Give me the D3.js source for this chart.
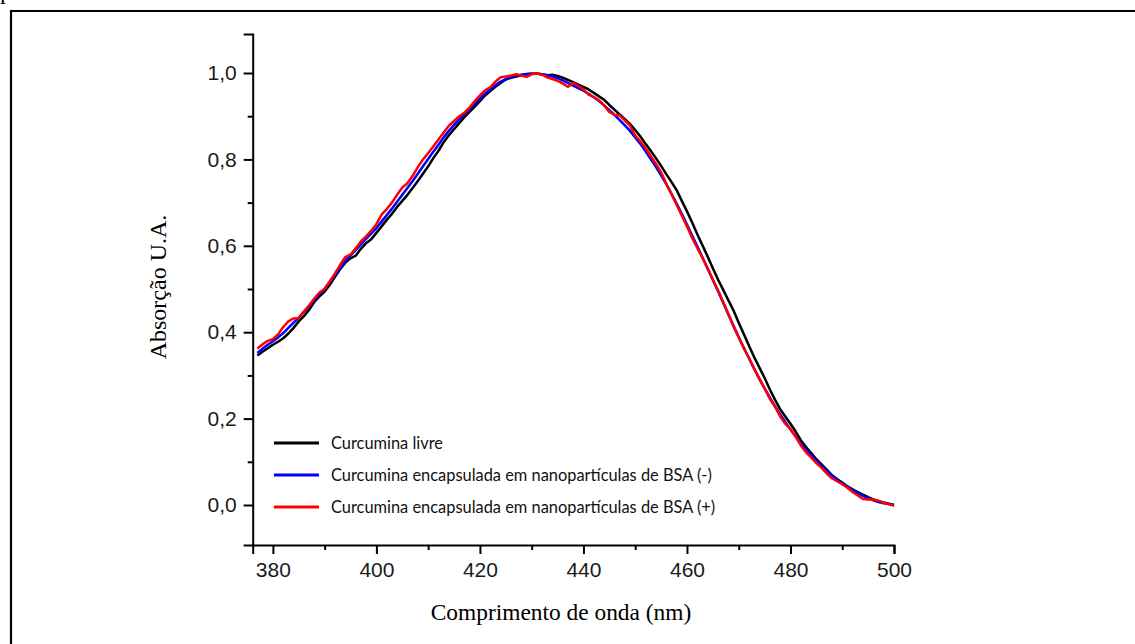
<!DOCTYPE html>
<html>
<head>
<meta charset="utf-8">
<script src="https://cdn.jsdelivr.net/npm/d3@7/dist/d3.min.js"></script>
<style>
  html, body { margin: 0; padding: 0; background: #fff; }
  svg { display: block; }
</style>
</head>
<body>
<svg id="chart" width="1135" height="644"></svg>
<script>
// Wavelength grid (nm)
const wavelengths = d3.range(377, 501);

// Normalised absorption spectra
const curcuminaLivre = [
  0.346,0.355,0.363,0.371,0.378,0.386,0.397,0.410,0.425,0.437,
  0.452,0.470,0.483,0.494,0.510,0.528,0.546,0.561,0.571,0.577,
  0.593,0.606,0.615,0.630,0.645,0.660,0.674,0.690,0.704,0.718,
  0.734,0.750,0.767,0.784,0.803,0.820,0.840,0.856,0.870,0.884,
  0.898,0.910,0.922,0.935,0.948,0.958,0.968,0.977,0.985,0.989,
  0.992,0.995,0.997,0.998,0.999,0.997,0.995,0.996,0.993,0.989,
  0.984,0.979,0.973,0.968,0.962,0.954,0.946,0.938,0.926,0.915,
  0.904,0.893,0.882,0.868,0.853,0.836,0.820,0.803,0.785,0.766,
  0.748,0.729,0.704,0.680,0.654,0.627,0.601,0.575,0.548,0.522,
  0.498,0.474,0.450,0.422,0.395,0.368,0.342,0.318,0.294,0.268,
  0.244,0.222,0.205,0.188,0.170,0.150,0.134,0.120,0.106,0.094,
  0.082,0.069,0.060,0.052,0.043,0.036,0.030,0.024,0.018,0.013,
  0.009,0.006,0.003,0.000
];

const bsaNegativa = [
  0.352,0.362,0.371,0.379,0.388,0.398,0.410,0.422,0.434,0.447,
  0.460,0.474,0.488,0.501,0.516,0.532,0.549,0.565,0.578,0.590,
  0.603,0.616,0.628,0.641,0.656,0.671,0.686,0.702,0.718,0.734,
  0.750,0.767,0.784,0.801,0.818,0.834,0.851,0.866,0.880,0.893,
  0.905,0.917,0.929,0.941,0.952,0.962,0.972,0.980,0.986,0.991,
  0.994,0.996,0.998,0.999,0.998,0.997,0.995,0.992,0.988,0.983,
  0.977,0.971,0.965,0.959,0.952,0.944,0.935,0.925,0.914,0.903,
  0.891,0.879,0.866,0.851,0.836,0.819,0.801,0.783,0.763,0.743,
  0.721,0.698,0.674,0.649,0.624,0.599,0.573,0.547,0.521,0.495,
  0.468,0.441,0.415,0.389,0.364,0.339,0.315,0.292,0.270,0.249,
  0.229,0.210,0.192,0.175,0.159,0.143,0.128,0.115,0.102,0.090,
  0.079,0.069,0.059,0.050,0.042,0.034,0.027,0.021,0.016,0.011,
  0.007,0.004,0.002,0.000
];

const bsaPositiva = [
  0.362,0.372,0.380,0.384,0.395,0.412,0.425,0.432,0.433,0.448,
  0.462,0.478,0.492,0.500,0.518,0.536,0.556,0.574,0.580,0.594,
  0.610,0.622,0.635,0.650,0.672,0.685,0.700,0.718,0.735,0.745,
  0.762,0.782,0.800,0.815,0.830,0.846,0.862,0.878,0.889,0.900,
  0.908,0.920,0.935,0.948,0.960,0.967,0.980,0.990,0.992,0.994,
  0.997,0.994,0.991,0.997,0.999,0.996,0.990,0.986,0.982,0.976,
  0.968,0.977,0.970,0.962,0.950,0.944,0.937,0.925,0.910,0.903,
  0.902,0.890,0.878,0.855,0.842,0.826,0.808,0.790,0.770,0.744,
  0.720,0.695,0.670,0.645,0.618,0.595,0.572,0.548,0.522,0.497,
  0.470,0.442,0.413,0.388,0.362,0.340,0.315,0.292,0.270,0.246,
  0.228,0.205,0.188,0.176,0.158,0.138,0.122,0.110,0.097,0.086,
  0.073,0.062,0.055,0.048,0.040,0.030,0.022,0.014,0.013,0.013,
  0.010,0.005,0.002,-0.002
];

const seriesNames = [
  "Curcumina livre",
  "Curcumina encapsulada em nanopartículas de BSA (-)",
  "Curcumina encapsulada em nanopartículas de BSA (+)"
];
const seriesColors = ["#000000", "#0000ff", "#ff0000"];
const seriesValues = [curcuminaLivre, bsaNegativa, bsaPositiva];

// Axis ticks
const xMajorTicks = [380, 400, 420, 440, 460, 480, 500];
const xMinorTicks = [390, 410, 430, 450, 470, 490];
const yMajorTicks = [0.0, 0.2, 0.4, 0.6, 0.8, 1.0];
const yMinorTicks = [0.1, 0.3, 0.5, 0.7, 0.9];

const svg = d3.select("#chart");

// Outer frame
svg.append("path")
  .attr("d", "M11,650 L11,11 L1140,11")
  .attr("fill", "none")
  .attr("stroke", "#000")
  .attr("stroke-width", 2.2);

// Descender of the preceding line of text, clipped by the top edge
svg.append("text")
  .attr("x", 0).attr("y", -1)
  .attr("font-family", "'Liberation Serif', 'Times New Roman', serif")
  .attr("font-size", 24)
  .text("p");

const x = d3.scaleLinear().domain([376.1, 500]).range([252.7, 894]);
const y = d3.scaleLinear().domain([-0.0926, 1.0903]).range([545, 34]);

const fmt = d => d3.format(".1f")(d).replace(".", ",");

// X axis
const gx = svg.append("g").attr("transform", `translate(0,${y.range()[0]})`);
gx.call(d3.axisBottom(x).tickValues(xMajorTicks).tickSizeOuter(0).tickSize(9).tickPadding(8));
gx.append("g").call(d3.axisBottom(x).tickValues(xMinorTicks).tickSize(5).tickFormat(""))
  .select(".domain").remove();

// Y axis
const gy = svg.append("g").attr("transform", `translate(${x.range()[0]},0)`);
gy.call(d3.axisLeft(y).tickValues(yMajorTicks).tickFormat(fmt).tickSizeOuter(0).tickSize(9).tickPadding(7));
gy.append("g").call(d3.axisLeft(y).tickValues(yMinorTicks).tickSize(5).tickFormat(""))
  .select(".domain").remove();

svg.selectAll(".domain").attr("stroke-width", 2);
svg.selectAll(".tick line").attr("stroke-width", 2);
svg.selectAll(".tick text")
  .attr("font-family", "'Liberation Sans', Arial, sans-serif")
  .attr("font-size", 21)
  .attr("fill", "#1a1a1a");

// Spectra
const line = d3.line()
  .x((d, i) => x(wavelengths[i]))
  .y(d => y(d));

seriesValues.forEach((vals, k) => {
  svg.append("path")
    .datum(vals)
    .attr("d", line)
    .attr("fill", "none")
    .attr("stroke", seriesColors[k])
    .attr("stroke-width", 2.5)
    .attr("stroke-linejoin", "round");
});

// Legend
const legend = svg.append("g").attr("transform", "translate(274,443)");
seriesNames.forEach((name, k) => {
  const row = legend.append("g").attr("transform", `translate(0,${k * 32})`);
  row.append("line")
    .attr("x1", 0).attr("x2", 45)
    .attr("stroke", seriesColors[k])
    .attr("stroke-width", 3);
  row.append("text")
    .attr("x", 57).attr("y", 6)
    .attr("font-family", "Lato, 'Open Sans', sans-serif")
    .attr("font-size", 16.4)
    .attr("fill", "#111")
    .text(name);
});

// Axis titles
svg.append("text")
  .attr("x", 561).attr("y", 620)
  .attr("text-anchor", "middle")
  .attr("font-family", "'Liberation Serif', 'Times New Roman', serif")
  .attr("font-size", 23.4)
  .text("Comprimento de onda (nm)");

svg.append("text")
  .attr("transform", "translate(166,287) rotate(-90)")
  .attr("text-anchor", "middle")
  .attr("font-family", "'Liberation Serif', 'Times New Roman', serif")
  .attr("font-size", 24)
  .text("Absorção U.A.");
</script>
</body>
</html>
